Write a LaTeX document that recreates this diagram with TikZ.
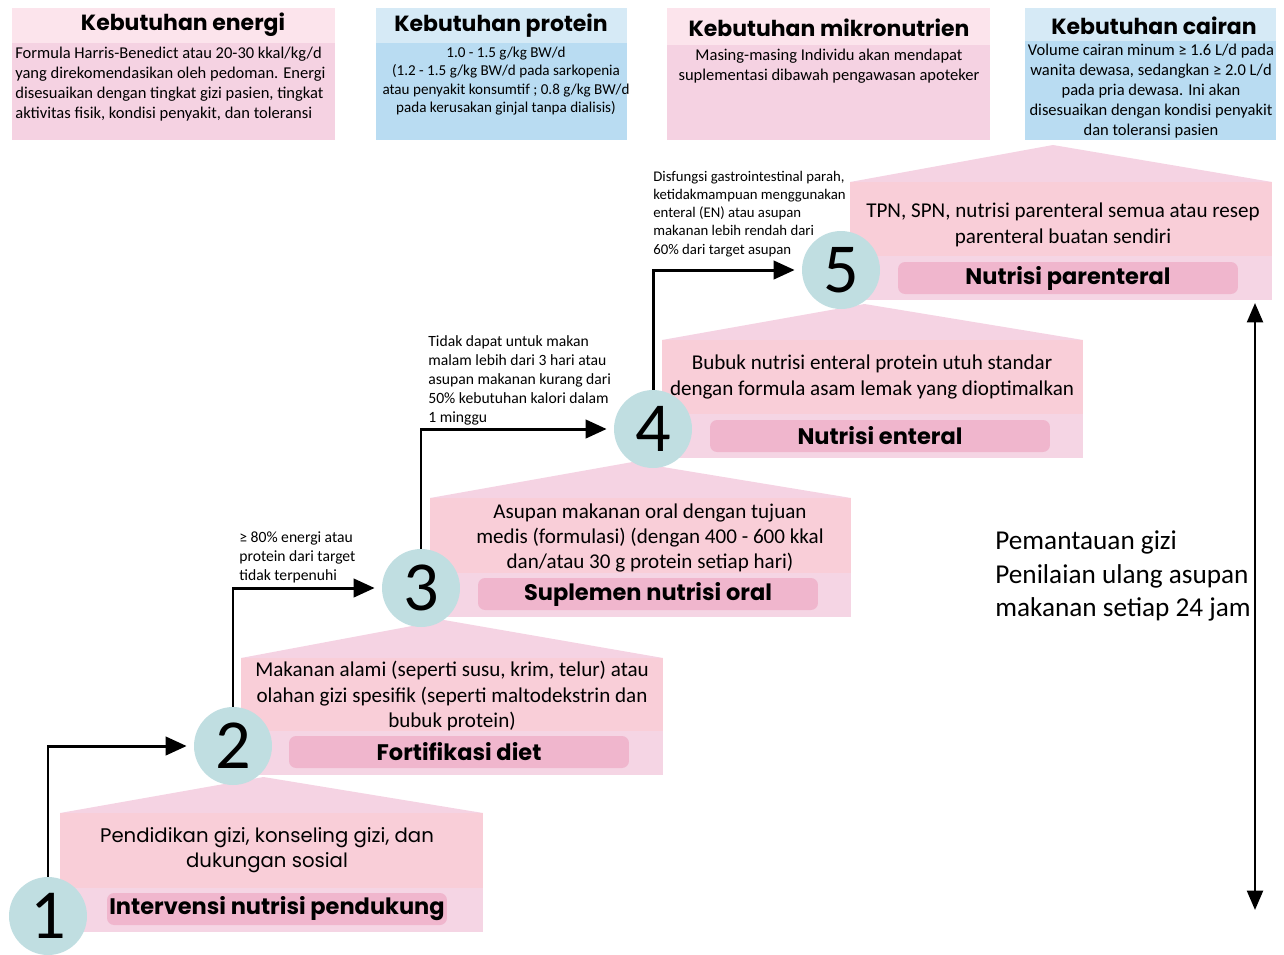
\documentclass[tikz,border=0pt]{standalone}
\usepackage{fontspec}
\setmainfont{Carlito}
\newfontfamily\headfont{Poppins}
\usepackage{tikz}
\usetikzlibrary{positioning,arrows.meta}

\definecolor{pinktop}{RGB}{252,228,236}
\definecolor{pinkbody}{RGB}{245,210,226}
\definecolor{bluetop}{RGB}{214,234,246}
\definecolor{bluebody}{RGB}{185,220,242}
\definecolor{roofpink}{RGB}{245,211,227}
\definecolor{wallpink}{RGB}{249,206,216}
\definecolor{bandpink}{RGB}{245,213,228}
\definecolor{tagpink}{RGB}{240,182,205}
\definecolor{circteal}{RGB}{192,222,225}

\tikzstyle{heading}=[font=\headfont\bfseries\fontsize{12.5}{15}\selectfont, inner sep=0]
\tikzstyle{info}=[font=\fontsize{9.4}{11.4}\selectfont, inner sep=0, align=center]
\tikzstyle{cond}=[font=\fontsize{8.9}{10.8}\selectfont, inner sep=0, align=left, anchor=west]
\tikzstyle{stepnum}=[circle, fill=circteal, minimum size=1.56cm, inner sep=0,
        font=\fontsize{40}{40}\selectfont]
\tikzstyle{steptext}=[font=\fontsize{12}{14.4}\selectfont, inner sep=0, align=center]
\tikzstyle{steptag}=[rectangle, rounded corners=4pt, fill=tagpink, minimum width=6.8cm,
        minimum height=0.64cm, inner sep=0, font=\headfont\bfseries\fontsize{12.8}{15}\selectfont]
\tikzstyle{flow}=[line width=1.7pt, -{Triangle[length=12pt,width=10.5pt]}, shorten >=4pt]

\begin{document}
\begin{tikzpicture}[x=0.02cm, y=-0.02cm]
        \useasboundingbox (0,0) rectangle (1284,954);

        % need boxes on top
        \fill[pinkbody] (12,8) rectangle (335,140);
        \fill[pinktop] (12,8) rectangle (335,43);
        \fill[bluebody] (376,8) rectangle (627,140);
        \fill[bluetop] (376,8) rectangle (627,43);
        \fill[pinkbody] (667,8) rectangle (990,140);
        \fill[pinktop] (667,8) rectangle (990,45);
        \fill[bluebody] (1025,8) rectangle (1276,140);
        \fill[bluetop] (1025,8) rectangle (1276,41);

        \node (energyhead) [heading] at (183,25) {Kebutuhan energi};
        \node (energytext) [info, align=left, anchor=west] at (15,84)
        {Formula Harris-Benedict atau 20-30 kkal/kg/d\\
         yang direkomendasikan oleh pedoman. Energi\\
         disesuaikan dengan tingkat gizi pasien, tingkat\\
         aktivitas fisik, kondisi penyakit, dan toleransi};
        \node (proteinhead) [heading] at (501,26) {Kebutuhan protein};
        \node (proteintext) [info, font=\fontsize{8.6}{10.4}\selectfont] at (506,81)
        {1.0 - 1.5 g/kg BW/d\\
         (1.2 - 1.5 g/kg BW/d pada sarkopenia\\
         atau penyakit konsumtif ; 0.8 g/kg BW/d\\
         pada kerusakan ginjal tanpa dialisis)};
        \node (microhead) [heading] at (829,28) {Kebutuhan mikronutrien};
        \node (microtext) [info] at (829,66)
        {Masing-masing Individu akan mendapat\\
         suplementasi dibawah pengawasan apoteker};
        \node (fluidhead) [heading] at (1154,26) {Kebutuhan cairan};
        \node (fluidtext) [info] at (1151,91)
        {Volume cairan minum ≥ 1.6 L/d pada\\
         wanita dewasa, sedangkan ≥ 2.0 L/d\\
         pada pria dewasa. Ini akan\\
         disesuaikan dengan kondisi penyakit\\
         dan toleransi pasien};

        % the five steps
        \foreach \xl/\xr/\ya/\yb/\yc/\yd in {60/483/777/813/888/932, 241/663/620/658/731/775,
                430/851/462/498/573/617, 662/1083/304/340/414/458, 850/1272/145/182/256/300}
        {
          \fill[roofpink] (\xl,\yb) -- ({(\xl+\xr)/2-8},\ya) -- (\xr,\yb) -- cycle;
          \fill[wallpink] (\xl,\yb) rectangle (\xr,\yc);
          \fill[bandpink] (\xl,\yc) rectangle (\xr,\yd);
        }

        \node (text1) [steptext, font=\headfont\fontsize{11.2}{14.4}\selectfont] at (267,850)
        {Pendidikan gizi, konseling gizi, dan\\dukungan sosial};
        \node (tag1) [steptag] at (277,909) {Intervensi nutrisi pendukung};
        \node (text2) [steptext] at (452,696)
        {Makanan alami (seperti susu, krim, telur) atau\\
         olahan gizi spesifik (seperti maltodekstrin dan\\
         bubuk protein)};
        \node (tag2) [steptag] at (459,752) {Fortifikasi diet};
        \node (text3) [steptext] at (650,538)
        {Asupan makanan oral dengan tujuan\\
         medis (formulasi) (dengan 400 - 600 kkal\\
         dan/atau 30 g protein setiap hari)};
        \node (tag3) [steptag] at (648,594) {Suplemen nutrisi oral};
        \node (text4) [steptext] at (872,377)
        {Bubuk nutrisi enteral protein utuh standar\\
         dengan formula asam lemak yang dioptimalkan};
        \node (tag4) [steptag] at (880,436) {Nutrisi enteral};
        \node (text5) [steptext] at (1063,225)
        {TPN, SPN, nutrisi parenteral semua atau resep\\
         parenteral buatan sendiri};
        \node (tag5) [steptag] at (1068,278) {Nutrisi parenteral};

        \node (num1) [stepnum] at (48,916) {1};
        \node (num2) [stepnum] at (233,746) {2};
        \node (num3) [stepnum] at (421,588) {3};
        \node (num4) [stepnum] at (653,429) {4};
        \node (num5) [stepnum] at (841,270) {5};

        % escalation arrows
        \draw[flow] (num1.north) |- (num2.west);
        \draw[flow] (num2.north) |- (num3.west);
        \draw[flow] (num3.north) |- (num4.west);
        \draw[flow] (num4.north) |- (num5.west);

        \node (cond2) [cond] at (239,557)
        {≥ 80\% energi atau\\protein dari target\\tidak terpenuhi};
        \node (cond3) [cond] at (428,380)
        {Tidak dapat untuk makan\\
         malam lebih dari 3 hari atau\\
         asupan makanan kurang dari\\
         50\% kebutuhan kalori dalam\\
         1 minggu};
        \node (cond4) [cond, font=\fontsize{8.4}{10.3}\selectfont] at (653,214)
        {Disfungsi gastrointestinal parah,\\
         ketidakmampuan menggunakan\\
         enteral (EN) atau asupan\\
         makanan lebih rendah dari\\
         60\% dari target asupan};

        % monitoring
        \coordinate (montop) at (1255,303);
        \coordinate (monbot) at (1255,910);
        \draw[line width=1.5pt, {Triangle[length=11pt,width=9pt]}-{Triangle[length=11pt,width=9pt]}]
          (montop) -- (monbot);
        \node (monitor) [cond, font=\fontsize{15.5}{19}\selectfont] at (995,576)
        {Pemantauan gizi\\Penilaian ulang asupan\\makanan setiap 24 jam};
\end{tikzpicture}
\end{document}
